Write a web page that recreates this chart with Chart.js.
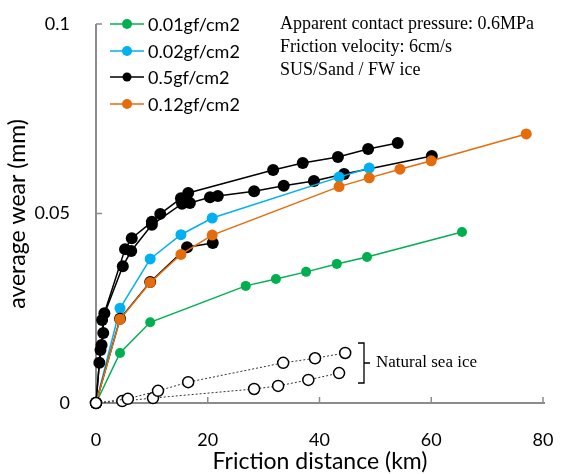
<!DOCTYPE html>
<html>
<head>
<meta charset="utf-8">
<script src="https://cdn.jsdelivr.net/npm/chart.js@4.4.1/dist/chart.umd.min.js"></script>
<style>
  html, body { margin: 0; padding: 0; background: #fff; }
  #wrap { width: 566px; height: 474px; }
</style>
</head>
<body>
<div id="wrap"><canvas id="chart" width="566" height="474"></canvas></div>
<script>
// Data (friction distance in km, average wear in mm)
const xTicks = [0, 20, 40, 60, 80];
const yTicks = [0, 0.05, 0.1];

const greenDist = [0, 4.3, 9.7, 26.8, 32.2, 37.6, 43.1, 48.5, 65.5];
const greenWear = [0, 0.0132, 0.0213, 0.0309, 0.0327, 0.0346, 0.0367, 0.0385, 0.0451];

const blueDist = [0, 4.3, 9.7, 15.2, 20.8, 43.5, 48.9];
const blueWear = [0, 0.0250, 0.0380, 0.0444, 0.0488, 0.0596, 0.0620];

const orangeDist = [0, 4.3, 9.7, 15.2, 20.8, 43.5, 48.9, 54.4, 60.0, 77.0];
const orangeWear = [0, 0.0221, 0.0318, 0.0392, 0.0443, 0.0571, 0.0594, 0.0617, 0.0639, 0.0710];

// 0.5gf/cm2 - three runs
const blackDistA = [0, 0.6, 1.0, 1.5, 5.2, 6.4, 10.0, 11.5, 15.2, 16.5, 31.7, 37.0, 43.3, 48.7, 54.0];
const blackWearA = [0, 0.0106, 0.0153, 0.0237, 0.0406, 0.0435, 0.0478, 0.0499, 0.0540, 0.0554, 0.0615, 0.0633, 0.0649, 0.0670, 0.0686];
const blackDistB = [0, 0.8, 1.3, 1.1, 4.8, 6.3, 10.0, 15.4, 16.8, 20.4, 21.8, 28.3, 33.6, 39.0, 44.4, 60.1];
const blackWearB = [0, 0.0140, 0.0185, 0.0219, 0.0361, 0.0401, 0.0470, 0.0526, 0.0528, 0.0543, 0.0546, 0.0559, 0.0573, 0.0586, 0.0604, 0.0652];
const blackDistC = [0, 4.3, 9.7, 16.3, 20.9];
const blackWearC = [0, 0.0222, 0.0319, 0.0411, 0.0422];

// Natural sea ice
const iceDistA = [0, 5.7, 11.1, 16.5, 33.5, 39.2, 44.6];
const iceWearA = [0, 0.0011, 0.0032, 0.0055, 0.0106, 0.0118, 0.0132];
const iceDistB = [0, 4.7, 10.2, 28.3, 32.6, 38.0, 43.5];
const iceWearB = [0, 0.0005, 0.0013, 0.0037, 0.0045, 0.0061, 0.0079];

const legendLabels = ['0.01gf/cm2', '0.02gf/cm2', '0.5gf/cm2', '0.12gf/cm2'];
const legendColors = ['#00B050', '#00B0F0', '#000000', '#E46C0A'];
const notes = ['Apparent contact pressure: 0.6MPa', 'Friction velocity: 6cm/s', 'SUS/Sand / FW ice'];
const iceLabel = 'Natural sea ice';

const pts = (xs, ys) => xs.map((x, i) => ({ x, y: ys[i] }));

function series(xs, ys, color, radius) {
    return {
        data: pts(xs, ys),
        borderColor: color,
        backgroundColor: color,
        borderWidth: 1.5,
        pointRadius: radius,
        pointBorderWidth: 0,
        pointBackgroundColor: color,
        clip: false
    };
}

function iceSeries(xs, ys) {
    return {
        data: pts(xs, ys),
        borderColor: '#333',
        borderWidth: 1,
        borderDash: [2, 2],
        pointRadius: 5.5,
        pointBorderWidth: 1.5,
        pointBorderColor: '#000',
        pointBackgroundColor: '#fff',
        clip: false
    };
}

const CHART_LEFT = 96, CHART_BOTTOM = 403;

// Axis lines, inward ticks, legend and notes
const extras = {
    id: 'extras',
    beforeDatasetsDraw(chart) {
        const { ctx, chartArea: a, scales: { x, y } } = chart;
        ctx.save();
        ctx.strokeStyle = '#8c8c8c';
        ctx.lineWidth = 2;
        ctx.beginPath();
        ctx.moveTo(a.left, a.top);
        ctx.lineTo(a.left, a.bottom);
        ctx.lineTo(a.right + 2, a.bottom);
        ctx.stroke();
        ctx.lineWidth = 1.5;
        ctx.beginPath();
        xTicks.slice(1).forEach(v => {
            const px = x.getPixelForValue(v);
            ctx.moveTo(px, a.bottom);
            ctx.lineTo(px, a.bottom - 6);
        });
        yTicks.slice(1).forEach(v => {
            const py = y.getPixelForValue(v);
            ctx.moveTo(a.left, py);
            ctx.lineTo(a.left + 6, py);
        });
        ctx.stroke();
        ctx.restore();
    },
    afterDraw(chart) {
        const { ctx } = chart;
        ctx.save();
        ctx.fillStyle = '#000';
        ctx.textBaseline = 'middle';

        // legend
        const rows = [24, 51, 77, 104];
        ctx.font = '18px Lato';
        legendLabels.forEach((t, i) => {
            ctx.strokeStyle = legendColors[i];
            ctx.lineWidth = 1.5;
            ctx.beginPath();
            ctx.moveTo(110, rows[i]);
            ctx.lineTo(144, rows[i]);
            ctx.stroke();
            ctx.fillStyle = legendColors[i];
            ctx.beginPath();
            ctx.arc(127, rows[i], i === 2 ? 4.5 : 5, 0, Math.PI * 2);
            ctx.fill();
            ctx.fillStyle = '#000';
            ctx.textAlign = 'left';
            ctx.fillText(t, 148, rows[i] + 1);
        });

        // notes
        ctx.font = '18px "Liberation Serif"';
        notes.forEach((t, i) => ctx.fillText(t, 280, 24 + i * 23));

        // brace and label for sea ice
        ctx.strokeStyle = '#000';
        ctx.lineWidth = 1.3;
        ctx.beginPath();
        ctx.moveTo(358, 343);
        ctx.lineTo(364, 343);
        ctx.lineTo(364, 383);
        ctx.lineTo(358, 383);
        ctx.moveTo(364, 363);
        ctx.lineTo(370, 363);
        ctx.stroke();
        ctx.font = '17px "Liberation Serif"';
        ctx.fillText(iceLabel, 376, 363);

        // axis titles
        ctx.font = '23px Lato';
        ctx.textAlign = 'center';
        ctx.fillText('Friction distance (km)', 320, 462);
        ctx.translate(18, 214);
        ctx.rotate(-Math.PI / 2);
        ctx.fillText('average wear (mm)', 0, 0);
        ctx.restore();
    }
};

const chart = new Chart(document.getElementById('chart'), {
    type: 'line',
    data: {
        datasets: [
            iceSeries(iceDistA, iceWearA),
            iceSeries(iceDistB, iceWearB),
            series(orangeDist, orangeWear, legendColors[3], 5.5),
            series(blackDistC, blackWearC, '#000', 6),
            series(blueDist, blueWear, legendColors[1], 5.5),
            series(blackDistB, blackWearB, '#000', 6),
            series(blackDistA, blackWearA, '#000', 6),
            series(greenDist, greenWear, legendColors[0], 5)
        ]
    },
    options: {
        responsive: false,
        animation: false,
        layout: { padding: { top: 24, right: 23, left: 0, bottom: 0 } },
        plugins: { legend: { display: false }, tooltip: { enabled: false } },
        scales: {
            x: {
                type: 'linear',
                min: 0,
                max: 80,
                afterFit: s => {
                    s.height = 474 - CHART_BOTTOM;
                    s.paddingLeft = 0;
                    s.paddingRight = 0;
                },
                grid: { display: false },
                border: { display: false },
                ticks: { stepSize: 20, color: '#000', padding: 18, font: { family: 'Lato', size: 18 } }
            },
            y: {
                type: 'linear',
                min: 0,
                max: 0.1,
                afterFit: s => {
                    s.width = CHART_LEFT;
                    s.paddingTop = 0;
                    s.paddingBottom = 0;
                },
                grid: { display: false },
                border: { display: false },
                ticks: {
                    stepSize: 0.05,
                    color: '#000',
                    padding: 18,
                    font: { family: 'Lato', size: 18 },
                    callback: v => String(Math.round(v * 100) / 100)
                }
            }
        }
    },
    plugins: [extras]
});
</script>
</body>
</html>
